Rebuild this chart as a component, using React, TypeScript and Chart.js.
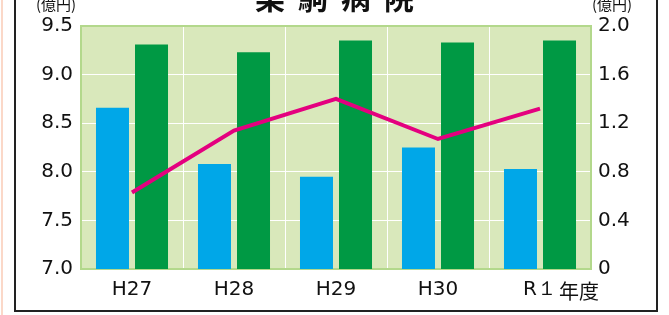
import React, { useEffect, useRef } from "react";
import { Chart, registerables } from "chart.js";

Chart.register(...registerables);

const categories = ["H27", "H28", "H29", "H30", "R１"];
const blueValues = [8.66, 8.08, 7.95, 8.25, 8.03];
const greenValues = [9.31, 9.23, 9.35, 9.33, 9.35];
const lineValues = [0.63, 1.14, 1.4, 1.07, 1.32];
const leftTicks = { min: 7.0, max: 9.5, step: 0.5 };
const rightTicks = { min: 0, max: 2.0, step: 0.4 };
const titleText = "栗駒病院";
const unitText = "(億円)";
const yearSuffix = "年度";

const plotBg = {
  id: "plotBg",
  beforeDraw(chart: any) {
    const { ctx, chartArea: a } = chart;
    ctx.save();
    ctx.fillStyle = "#d9e8bb";
    ctx.fillRect(a.left, a.top, a.right - a.left, a.bottom - a.top);
    ctx.restore();
  },
  beforeDatasetsDraw(chart: any) {
    const { ctx, chartArea: a } = chart;
    ctx.save();
    ctx.strokeStyle = "#b3d88c";
    ctx.lineWidth = 2;
    ctx.strokeRect(a.left, a.top, a.right - a.left, a.bottom - a.top);
    ctx.restore();
  },
};

export default function App() {
  const ref = useRef<HTMLCanvasElement | null>(null);
  useEffect(() => {
    if (!ref.current) return;
    const tickFont = { family: "'DejaVu Sans', sans-serif", size: 20 };
    const chart = new Chart(ref.current, {
      type: "bar",
      data: {
        labels: categories,
        datasets: [
          {
            type: "line",
            data: lineValues,
            yAxisID: "y1",
            borderColor: "#e4007f",
            borderWidth: 4,
            pointRadius: 0,
            tension: 0,
            order: 0,
          } as any,
          {
            type: "bar",
            data: blueValues,
            yAxisID: "y",
            backgroundColor: "#00a7e8",
            categoryPercentage: 0.765,
            barPercentage: 0.846,
            order: 1,
          },
          {
            type: "bar",
            data: greenValues,
            yAxisID: "y",
            backgroundColor: "#009944",
            categoryPercentage: 0.765,
            barPercentage: 0.846,
            order: 1,
          },
        ],
      },
      options: {
        responsive: false,
        animation: false,
        layout: { padding: { top: 26, left: 0, right: 0, bottom: 0 } },
        plugins: { legend: { display: false }, tooltip: { enabled: false }, title: { display: false } },
        scales: {
          x: {
            grid: { offset: true, color: "#ffffff", lineWidth: 1, drawTicks: false },
            border: { display: false },
            ticks: { color: "#111", font: tickFont, padding: 9, maxRotation: 0 },
            afterFit(s: any) { s.height = 46; },
          },
          y: {
            position: "left",
            min: leftTicks.min,
            max: leftTicks.max,
            grid: { color: "#ffffff", lineWidth: 1, drawTicks: false },
            border: { display: false },
            ticks: {
              stepSize: leftTicks.step,
              color: "#111",
              font: tickFont,
              padding: 8,
              callback: (v: any) => Number(v).toFixed(1),
            },
            afterFit(s: any) { s.width = 81; },
          },
          y1: {
            position: "right",
            min: rightTicks.min,
            max: rightTicks.max,
            grid: { display: false, drawTicks: false },
            border: { display: false },
            ticks: {
              stepSize: rightTicks.step,
              color: "#111",
              font: tickFont,
              padding: 7,
              callback: (v: any) => (Number(v) === 0 ? "0" : Number(v).toFixed(1)),
            },
            afterFit(s: any) { s.width = 78; },
          },
        },
      } as any,
      plugins: [plotBg],
    });
    return () => chart.destroy();
  }, []);

  const cjk = "'Noto Sans CJK JP', sans-serif";
  return (
    <div style={{ position: "absolute", left: 0, top: 0, width: 669, height: 315, overflow: "hidden", background: "#fff" }}>
      <div style={{ position: "absolute", left: 1, top: 0, width: 2, height: 315, background: "#fbd8c8" }} />
      <div style={{ position: "absolute", left: 14, top: -10, width: 644, height: 322, border: "2px solid #222", boxSizing: "border-box" }} />
      <canvas ref={ref} width={669} height={315} style={{ position: "absolute", left: 0, top: 0, width: 669, height: 315 }} />
      <div style={{ position: "absolute", left: 0, width: 669, top: -19, textAlign: "center", font: `bold 30px/30px ${cjk}`, letterSpacing: 13, paddingLeft: 13, boxSizing: "border-box", color: "#111", whiteSpace: "nowrap" }}>{titleText}</div>
      <div style={{ position: "absolute", left: 36, top: -4, font: `15px/15px ${cjk}`, color: "#111", whiteSpace: "nowrap" }}>{unitText}</div>
      <div style={{ position: "absolute", left: 592, top: -4, font: `15px/15px ${cjk}`, color: "#111", whiteSpace: "nowrap" }}>{unitText}</div>
      <div style={{ position: "absolute", left: 559, top: 281, font: `20px/20px ${cjk}`, color: "#111", whiteSpace: "nowrap" }}>{yearSuffix}</div>
    </div>
  );
}
